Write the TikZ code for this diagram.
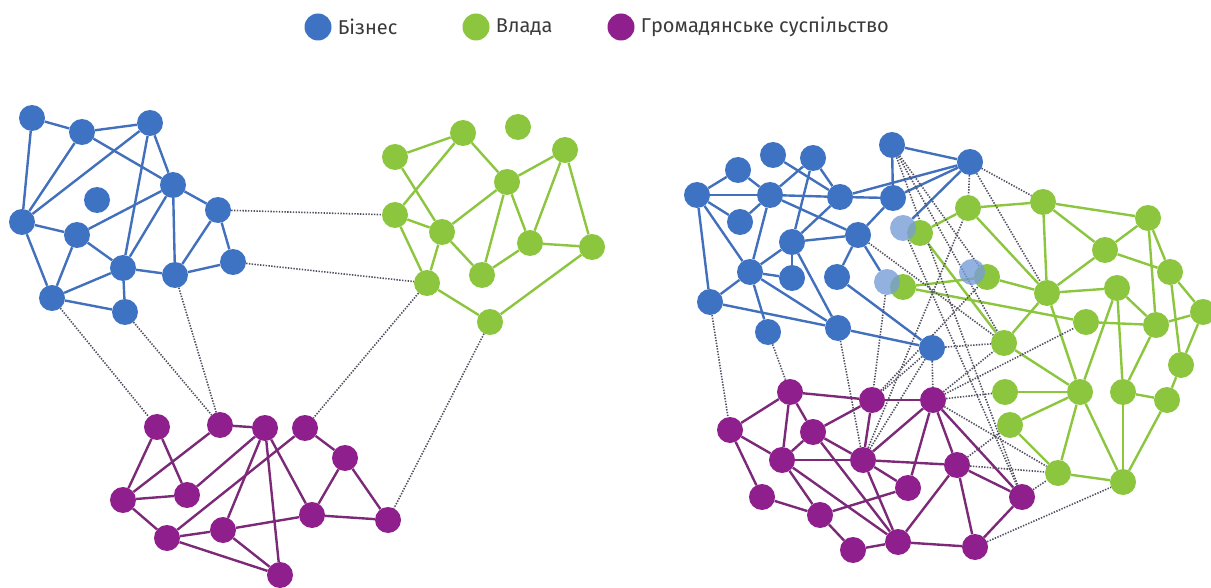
\documentclass[tikz,border=0pt]{standalone}
\usepackage{fontspec}
\setmainfont{Fira Sans}
\usepackage{tikz}
\usetikzlibrary{positioning}
\definecolor{azul}{HTML}{3E73C4}
\definecolor{azullinea}{HTML}{4270BC}
\definecolor{verde}{HTML}{8CC63F}
\definecolor{morado}{HTML}{8E1F8C}
\definecolor{moradolinea}{HTML}{7C2A78}
\definecolor{gris}{HTML}{505060}
\definecolor{letra}{HTML}{3A3A3A}
\tikzset{nodoazul/.style={fill=azul}}
\tikzset{nodoverde/.style={fill=verde}}
\tikzset{nodomorado/.style={fill=morado}}
\tikzset{nodopalido/.style={fill=azul!70!white, fill opacity=0.8}}
\tikzset{arcoazul/.style={line width=2.4pt, draw=azullinea}}
\tikzset{arcoverde/.style={line width=2.4pt, draw=verde}}
\tikzset{arcomorado/.style={line width=2.4pt, draw=moradolinea}}
\tikzset{punteado/.style={line width=1.6pt, draw=gris, dash pattern=on 1.4pt off 1.4pt}}
\tikzset{leyenda/.style={rectangle, inner sep=1pt, text=letra, font=\fontsize{20}{24}\selectfont}}
\pgfdeclarelayer{fondo}
\pgfsetlayers{fondo,main}

\begin{document}
\begin{tikzpicture}[
            x = 1pt, y = -1pt,
            every node/.style={circle, inner sep=0pt, minimum size=26pt}
        ]
            \useasboundingbox (0,0) rectangle (1211,588);

            % leyenda
            \node[nodoazul, minimum size=27pt] (leyb) at (318,27) {};
            \node[leyenda, right= 5pt of leyb] (textob) {Бізнес};
            \node[nodoverde, minimum size=27pt] (leyg) at (476,27) {};
            \node[leyenda, right= 5pt of leyg] (textog) {Влада};
            \node[nodomorado, minimum size=27pt] (leyp) at (621,27) {};
            \node[leyenda, right= 5pt of leyp] (textop) {Громадянське суспільство};

            % red izquierda: negocio
            \node[nodoazul] (b1) at (32,118) {};
            \node[nodoazul] (b2) at (82,132) {};
            \node[nodoazul] (b3) at (150,123) {};
            \node[nodoazul] (b4) at (173,185) {};
            \node[nodoazul] (b5) at (218,210) {};
            \node[nodoazul] (b6) at (97,200) {};
            \node[nodoazul] (b7) at (22,222) {};
            \node[nodoazul] (b8) at (77,235) {};
            \node[nodoazul] (b9) at (123,268) {};
            \node[nodoazul] (b10) at (175,275) {};
            \node[nodoazul] (b11) at (233,262) {};
            \node[nodoazul] (b12) at (52,298) {};
            \node[nodoazul] (b13) at (125,312) {};

            % red izquierda: gobierno
            \node[nodoverde] (g1) at (463,133) {};
            \node[nodoverde] (g2) at (518,127) {};
            \node[nodoverde] (g3) at (565,150) {};
            \node[nodoverde] (g4) at (395,157) {};
            \node[nodoverde] (g5) at (507,182) {};
            \node[nodoverde] (g6) at (395,215) {};
            \node[nodoverde] (g7) at (442,232) {};
            \node[nodoverde] (g8) at (530,243) {};
            \node[nodoverde] (g9) at (592,247) {};
            \node[nodoverde] (g10) at (482,275) {};
            \node[nodoverde] (g11) at (427,283) {};
            \node[nodoverde] (g12) at (490,322) {};

            % red izquierda: sociedad civil
            \node[nodomorado] (p1) at (157,427) {};
            \node[nodomorado] (p2) at (220,425) {};
            \node[nodomorado] (p3) at (265,428) {};
            \node[nodomorado] (p4) at (305,428) {};
            \node[nodomorado] (p5) at (345,458) {};
            \node[nodomorado] (p6) at (123,500) {};
            \node[nodomorado] (p7) at (187,495) {};
            \node[nodomorado] (p8) at (167,538) {};
            \node[nodomorado] (p9) at (223,530) {};
            \node[nodomorado] (p10) at (312,515) {};
            \node[nodomorado] (p11) at (388,520) {};
            \node[nodomorado] (p12) at (280,575) {};

            % red derecha: gobierno
            \node[nodoverde] (rg1) at (968,208) {};
            \node[nodoverde] (rg2) at (1043,202) {};
            \node[nodoverde] (rg3) at (1148,218) {};
            \node[nodoverde] (rg4) at (920,233) {};
            \node[nodoverde] (rg5) at (1105,250) {};
            \node[nodoverde] (rg6) at (1170,272) {};
            \node[nodoverde] (rg7) at (987,277) {};
            \node[nodoverde] (rg8) at (903,287) {};
            \node[nodoverde] (rg9) at (1047,293) {};
            \node[nodoverde] (rg10) at (1117,288) {};
            \node[nodoverde] (rg11) at (1203,312) {};
            \node[nodoverde] (rg12) at (1086,322) {};
            \node[nodoverde] (rg13) at (1156,325) {};
            \node[nodoverde] (rg14) at (1004,343) {};
            \node[nodoverde] (rg15) at (1181,365) {};
            \node[nodoverde] (rg16) at (1005,392) {};
            \node[nodoverde] (rg17) at (1080,392) {};
            \node[nodoverde] (rg18) at (1123,392) {};
            \node[nodoverde] (rg19) at (1167,400) {};
            \node[nodoverde] (rg20) at (1010,425) {};
            \node[nodoverde] (rg21) at (1058,473) {};
            \node[nodoverde] (rg22) at (1123,482) {};

            % red derecha: negocio
            \node[nodoazul] (rb1) at (892,145) {};
            \node[nodoazul] (rb2) at (773,155) {};
            \node[nodoazul] (rb3) at (813,158) {};
            \node[nodoazul] (rb4) at (738,170) {};
            \node[nodoazul] (rb5) at (697,195) {};
            \node[nodoazul] (rb6) at (770,195) {};
            \node[nodoazul] (rb7) at (840,197) {};
            \node[nodoazul] (rb8) at (893,198) {};
            \node[nodoazul] (rb9) at (740,222) {};
            \node[nodoazul] (rb10) at (858,235) {};
            \node[nodoazul] (rb12) at (792,242) {};
            \node[nodoazul] (rb13) at (750,272) {};
            \node[nodoazul] (rb14) at (792,278) {};
            \node[nodoazul] (rb15) at (837,277) {};
            \node[nodoazul] (rb17) at (710,302) {};
            \node[nodoazul] (rb18) at (768,332) {};
            \node[nodoazul] (rb19) at (838,328) {};
            \node[nodoazul] (rb20) at (932,348) {};
            \node[nodoazul] (rb21) at (970,162) {};
            \node[nodopalido] (rb11) at (903,228) {};
            \node[nodopalido] (rb16) at (887,282) {};
            \node[nodopalido] (rb22) at (972,272) {};

            % red derecha: sociedad civil
            \node[nodomorado] (rp1) at (790,392) {};
            \node[nodomorado] (rp2) at (872,400) {};
            \node[nodomorado] (rp3) at (933,400) {};
            \node[nodomorado] (rp4) at (730,430) {};
            \node[nodomorado] (rp5) at (813,432) {};
            \node[nodomorado] (rp6) at (782,460) {};
            \node[nodomorado] (rp7) at (863,460) {};
            \node[nodomorado] (rp8) at (957,465) {};
            \node[nodomorado] (rp9) at (908,488) {};
            \node[nodomorado] (rp10) at (762,497) {};
            \node[nodomorado] (rp11) at (1022,497) {};
            \node[nodomorado] (rp12) at (820,515) {};
            \node[nodomorado] (rp13) at (898,542) {};
            \node[nodomorado] (rp14) at (853,550) {};
            \node[nodomorado] (rp15) at (975,547) {};

            \begin{pgfonlayer}{fondo}
            % enlaces izquierda
            \draw[arcoazul] (b1) to [] (b2);
            \draw[arcoazul] (b2) to [] (b3);
            \draw[arcoazul] (b1) to [] (b7);
            \draw[arcoazul] (b2) to [] (b7);
            \draw[arcoazul] (b3) to [] (b7);
            \draw[arcoazul] (b2) to [] (b4);
            \draw[arcoazul] (b3) to [] (b4);
            \draw[arcoazul] (b3) to [] (b9);
            \draw[arcoazul] (b4) to [] (b5);
            \draw[arcoazul] (b4) to [] (b8);
            \draw[arcoazul] (b4) to [] (b9);
            \draw[arcoazul] (b4) to [] (b10);
            \draw[arcoazul] (b5) to [] (b10);
            \draw[arcoazul] (b5) to [] (b11);
            \draw[arcoazul] (b7) to [] (b8);
            \draw[arcoazul] (b7) to [] (b12);
            \draw[arcoazul] (b8) to [] (b9);
            \draw[arcoazul] (b8) to [] (b12);
            \draw[arcoazul] (b9) to [] (b10);
            \draw[arcoazul] (b9) to [] (b12);
            \draw[arcoazul] (b9) to [] (b13);
            \draw[arcoazul] (b10) to [] (b11);
            \draw[arcoazul] (b12) to [] (b13);

            \draw[arcoverde] (g4) to [] (g1);
            \draw[arcoverde] (g1) to [] (g6);
            \draw[arcoverde] (g1) to [] (g5);
            \draw[arcoverde] (g4) to [] (g7);
            \draw[arcoverde] (g6) to [] (g7);
            \draw[arcoverde] (g6) to [] (g11);
            \draw[arcoverde] (g7) to [] (g11);
            \draw[arcoverde] (g7) to [] (g5);
            \draw[arcoverde] (g7) to [] (g10);
            \draw[arcoverde] (g5) to [] (g3);
            \draw[arcoverde] (g5) to [] (g10);
            \draw[arcoverde] (g5) to [] (g8);
            \draw[arcoverde] (g3) to [] (g8);
            \draw[arcoverde] (g3) to [] (g9);
            \draw[arcoverde] (g8) to [] (g9);
            \draw[arcoverde] (g10) to [] (g8);
            \draw[arcoverde] (g11) to [] (g12);
            \draw[arcoverde] (g12) to [] (g9);

            \draw[arcomorado] (p1) to [] (p6);
            \draw[arcomorado] (p1) to [] (p7);
            \draw[arcomorado] (p2) to [] (p6);
            \draw[arcomorado] (p2) to [] (p3);
            \draw[arcomorado] (p3) to [] (p7);
            \draw[arcomorado] (p3) to [] (p9);
            \draw[arcomorado] (p3) to [] (p12);
            \draw[arcomorado] (p3) to [] (p10);
            \draw[arcomorado] (p4) to [] (p8);
            \draw[arcomorado] (p4) to [] (p5);
            \draw[arcomorado] (p6) to [] (p7);
            \draw[arcomorado] (p6) to [] (p8);
            \draw[arcomorado] (p8) to [] (p9);
            \draw[arcomorado] (p8) to [] (p12);
            \draw[arcomorado] (p9) to [] (p12);
            \draw[arcomorado] (p9) to [] (p10);
            \draw[arcomorado] (p5) to [] (p10);
            \draw[arcomorado] (p5) to [] (p11);
            \draw[arcomorado] (p10) to [] (p11);

            \draw[punteado] (b5) to [] (g6);
            \draw[punteado] (b11) to [] (g11);
            \draw[punteado] (b12) to [] (p1);
            \draw[punteado] (b13) to [] (p2);
            \draw[punteado] (b10) to [] (p2);
            \draw[punteado] (g11) to [] (p4);
            \draw[punteado] (g12) to [] (p11);

            % enlaces derecha
            \draw[arcoazul] (rb5) to [] (rb4);
            \draw[arcoazul] (rb4) to [] (rb6);
            \draw[arcoazul] (rb5) to [] (rb6);
            \draw[arcoazul] (rb5) to [] (rb9);
            \draw[arcoazul] (rb9) to [] (rb6);
            \draw[arcoazul] (rb5) to [] (rb13);
            \draw[arcoazul] (rb5) to [] (rb17);
            \draw[arcoazul] (rb2) to [] (rb7);
            \draw[arcoazul] (rb3) to [] (rb6);
            \draw[arcoazul] (rb3) to [] (rb12);
            \draw[arcoazul] (rb3) to [] (rb7);
            \draw[arcoazul] (rb6) to [] (rb7);
            \draw[arcoazul] (rb7) to [] (rb8);
            \draw[arcoazul] (rb6) to [] (rb10);
            \draw[arcoazul] (rb6) to [] (rb13);
            \draw[arcoazul] (rb7) to [] (rb12);
            \draw[arcoazul] (rb12) to [] (rb10);
            \draw[arcoazul] (rb12) to [] (rb13);
            \draw[arcoazul] (rb12) to [] (rb14);
            \draw[arcoazul] (rb12) to [] (rb19);
            \draw[arcoazul] (rb10) to [] (rb15);
            \draw[arcoazul] (rb10) to [] (rb8);
            \draw[arcoazul] (rb10) to [] (rb16);
            \draw[arcoazul] (rb15) to [] (rb20);
            \draw[arcoazul] (rb13) to [] (rb14);
            \draw[arcoazul] (rb13) to [] (rb17);
            \draw[arcoazul] (rb13) to [] (rb18);
            \draw[arcoazul] (rb13) to [] (rb19);
            \draw[arcoazul] (rb17) to [] (rb19);
            \draw[arcoazul] (rb19) to [] (rb20);
            \draw[arcoazul] (rb8) to [] (rb1);
            \draw[arcoazul] (rb1) to [] (rb21);
            \draw[arcoazul] (rb8) to [] (rb21);
            \draw[arcoazul] (rb7) to [] (rb21);
            \draw[arcoazul] (rb21) to [] (rb11);

            \draw[arcoverde] (rg1) to [] (rg2);
            \draw[arcoverde] (rg1) to [] (rg4);
            \draw[arcoverde] (rg1) to [] (rg9);
            \draw[arcoverde] (rg2) to [] (rg3);
            \draw[arcoverde] (rg2) to [] (rg5);
            \draw[arcoverde] (rg2) to [] (rg9);
            \draw[arcoverde] (rg3) to [] (rg5);
            \draw[arcoverde] (rg3) to [] (rg6);
            \draw[arcoverde] (rg3) to [] (rg13);
            \draw[arcoverde] (rg5) to [] (rg6);
            \draw[arcoverde] (rg5) to [] (rg9);
            \draw[arcoverde] (rg6) to [] (rg11);
            \draw[arcoverde] (rg6) to [] (rg15);
            \draw[arcoverde] (rg7) to [] (rg9);
            \draw[arcoverde] (rg7) to [] (rg8);
            \draw[arcoverde] (rg8) to [] (rg12);
            \draw[arcoverde] (rg4) to [] (rg14);
            \draw[arcoverde] (rg9) to [] (rg10);
            \draw[arcoverde] (rg9) to [] (rg14);
            \draw[arcoverde] (rg9) to [] (rg17);
            \draw[arcoverde] (rg10) to [] (rg13);
            \draw[arcoverde] (rg10) to [] (rg17);
            \draw[arcoverde] (rg10) to [] (rg18);
            \draw[arcoverde] (rg12) to [] (rg13);
            \draw[arcoverde] (rg13) to [] (rg11);
            \draw[arcoverde] (rg13) to [] (rg18);
            \draw[arcoverde] (rg11) to [] (rg15);
            \draw[arcoverde] (rg15) to [] (rg19);
            \draw[arcoverde] (rg18) to [] (rg19);
            \draw[arcoverde] (rg19) to [] (rg22);
            \draw[arcoverde] (rg18) to [] (rg22);
            \draw[arcoverde] (rg17) to [] (rg22);
            \draw[arcoverde] (rg14) to [] (rg17);
            \draw[arcoverde] (rg16) to [] (rg17);
            \draw[arcoverde] (rg20) to [] (rg17);
            \draw[arcoverde] (rg20) to [] (rg21);
            \draw[arcoverde] (rg17) to [] (rg21);
            \draw[arcoverde] (rg21) to [] (rg22);

            \draw[arcomorado] (rp4) to [] (rp1);
            \draw[arcomorado] (rp1) to [] (rp2);
            \draw[arcomorado] (rp2) to [] (rp3);
            \draw[arcomorado] (rp1) to [] (rp6);
            \draw[arcomorado] (rp1) to [] (rp5);
            \draw[arcomorado] (rp5) to [] (rp2);
            \draw[arcomorado] (rp4) to [] (rp6);
            \draw[arcomorado] (rp4) to [] (rp10);
            \draw[arcomorado] (rp5) to [] (rp6);
            \draw[arcomorado] (rp5) to [] (rp7);
            \draw[arcomorado] (rp5) to [] (rp13);
            \draw[arcomorado] (rp6) to [] (rp7);
            \draw[arcomorado] (rp6) to [] (rp12);
            \draw[arcomorado] (rp6) to [] (rp13);
            \draw[arcomorado] (rp2) to [] (rp7);
            \draw[arcomorado] (rp3) to [] (rp7);
            \draw[arcomorado] (rp3) to [] (rp9);
            \draw[arcomorado] (rp3) to [] (rp8);
            \draw[arcomorado] (rp3) to [] (rp11);
            \draw[arcomorado] (rp7) to [] (rp8);
            \draw[arcomorado] (rp7) to [] (rp9);
            \draw[arcomorado] (rp7) to [] (rp13);
            \draw[arcomorado] (rp10) to [] (rp12);
            \draw[arcomorado] (rp12) to [] (rp9);
            \draw[arcomorado] (rp12) to [] (rp14);
            \draw[arcomorado] (rp14) to [] (rp13);
            \draw[arcomorado] (rp13) to [] (rp8);
            \draw[arcomorado] (rp13) to [] (rp15);
            \draw[arcomorado] (rp8) to [] (rp15);
            \draw[arcomorado] (rp8) to [] (rp11);
            \draw[arcomorado] (rp11) to [] (rp15);

            \draw[punteado] (rb17) to [] (rp4);
            \draw[punteado] (rb18) to [] (rp1);
            \draw[punteado] (rb19) to [] (rp7);
            \draw[punteado] (rb16) to [] (rp2);
            \draw[punteado] (rb20) to [] (rp2);
            \draw[punteado] (rb20) to [] (rp7);
            \draw[punteado] (rb20) to [] (rp3);
            \draw[punteado] (rb20) to [] (rg14);
            \draw[punteado] (rb21) to [] (rg2);
            \draw[punteado] (rb21) to [] (rg1);
            \draw[punteado] (rb21) to [] (rg9);
            \draw[punteado] (rb1) to [] (rg7);
            \draw[punteado] (rb1) to [] (rg14);
            \draw[punteado] (rb10) to [] (rg14);
            \draw[punteado] (rb11) to [] (rp11);
            \draw[punteado] (rb1) to [] (rp11);
            \draw[punteado] (rp2) to [] (rg7);
            \draw[punteado] (rp7) to [] (rg1);
            \draw[punteado] (rp3) to [] (rg12);
            \draw[punteado] (rp3) to [] (rg16);
            \draw[punteado] (rp3) to [] (rg14);
            \draw[punteado] (rp3) to [] (rg21);
            \draw[punteado] (rp8) to [] (rg21);
            \draw[punteado] (rp8) to [] (rg20);
            \draw[punteado] (rp11) to [] (rg21);
            \draw[punteado] (rp15) to [] (rg22);
            \end{pgfonlayer}
        \end{tikzpicture}
\end{document}
